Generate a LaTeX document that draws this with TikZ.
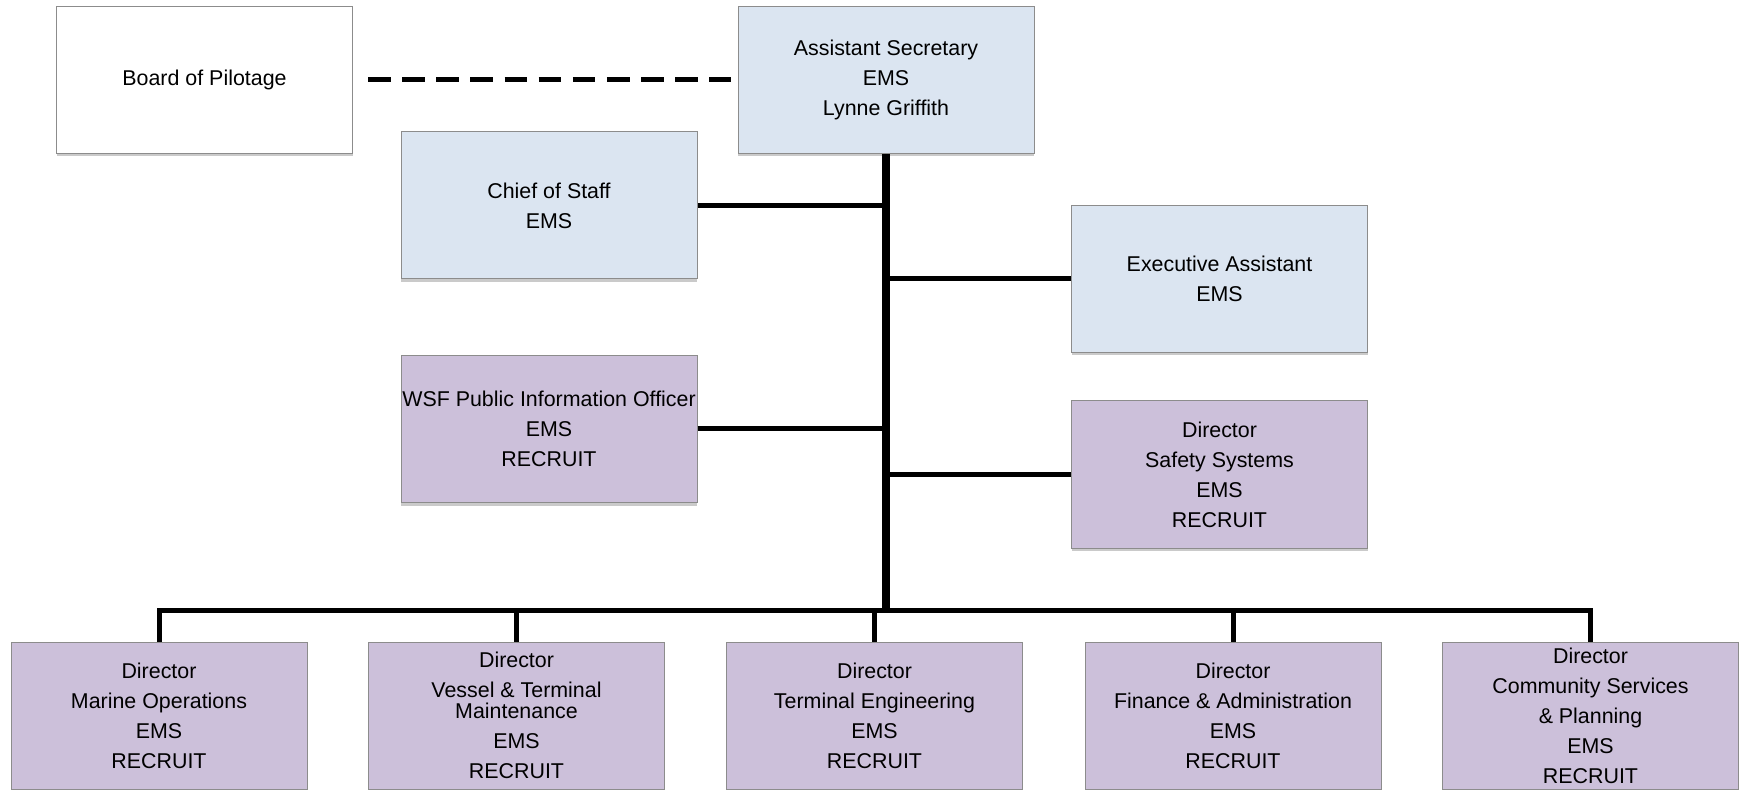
\documentclass[tikz,border=0pt]{standalone}
\usepackage{fontspec}
\setmainfont{Liberation Sans}
\usetikzlibrary{shadows}
\definecolor{lblue}{HTML}{DBE5F1}
\definecolor{lpurple}{HTML}{CCC0DA}
\definecolor{bordergray}{HTML}{8C8C8C}
\tikzset{
  orgbox/.style={rectangle, draw=bordergray, line width=0.5pt, minimum width=148pt, minimum height=73.5pt,
    align=center, inner sep=0pt, font=\fontsize{10.7}{15}\selectfont,
    drop shadow={shadow xshift=0pt, shadow yshift=-1.5pt, opacity=0.35, fill=black!60}},
  bluebox/.style={orgbox, fill=lblue},
  purplebox/.style={orgbox, fill=lpurple},
  whitebox/.style={orgbox, fill=white},
  conn/.style={line width=2.5pt, black},
  trunk/.style={line width=3.6pt, black},
  dashconn/.style={line width=2.5pt, black, dash pattern=on 11.3pt off 5.77pt}
}
\begin{document}
\begin{tikzpicture}[x=0.5pt, y=-0.5pt]
\useasboundingbox (0,0) rectangle (1743,790);
\node[whitebox]  (board)  at (204.5,80)  {Board of Pilotage};
\node[bluebox]   (asst)   at (886,80)    {Assistant Secretary\\EMS\\Lynne Griffith};
\node[bluebox]   (chief)  at (549,205.5) {Chief of Staff\\EMS};
\node[bluebox]   (exec)   at (1219.5,279) {Executive Assistant\\EMS};
\node[purplebox] (pio)    at (549,429)   {WSF Public Information Officer\\EMS\\RECRUIT};
\node[purplebox] (safety) at (1219.5,474.5) {Director\\Safety Systems\\EMS\\RECRUIT};
\node[purplebox] (m1) at (159,715.5)   {Director\\Marine Operations\\EMS\\RECRUIT};
\node[purplebox] (m2) at (516.5,715.5) {Director\\Vessel \& Terminal\\[-4.5pt]Maintenance\\EMS\\RECRUIT};
\node[purplebox] (m3) at (874.5,715.5) {Director\\Terminal Engineering\\EMS\\RECRUIT};
\node[purplebox] (m4) at (1233,715.5)  {Director\\Finance \& Administration\\EMS\\RECRUIT};
\node[purplebox] (m5) at (1590.5,715.5) {Director\\Community Services\\\& Planning\\EMS\\RECRUIT};
\coordinate (busy) at (886,610);
% dashed link
\draw[dashconn, shorten <=7.5pt, shorten >=3.5pt] (board.east) -- (board.east -| asst.west);
% branches
\draw[conn] (chief.east) -- (chief.east -| asst.south);
\draw[conn] (exec.west) -- (exec.west -| asst.south);
\draw[conn] (pio.east) -- (pio.east -| asst.south);
\draw[conn] (safety.west) -- (safety.west -| asst.south);
% bus
\draw[conn, line cap=rect] (m1.north |- busy) -- (m5.north |- busy);
\foreach \n in {m1,m2,m3,m4,m5}{
  \draw[conn] (\n.north) -- (\n.north |- busy);
}
\draw[trunk] (asst.south) -- (asst.south |- busy);
\end{tikzpicture}
\end{document}
